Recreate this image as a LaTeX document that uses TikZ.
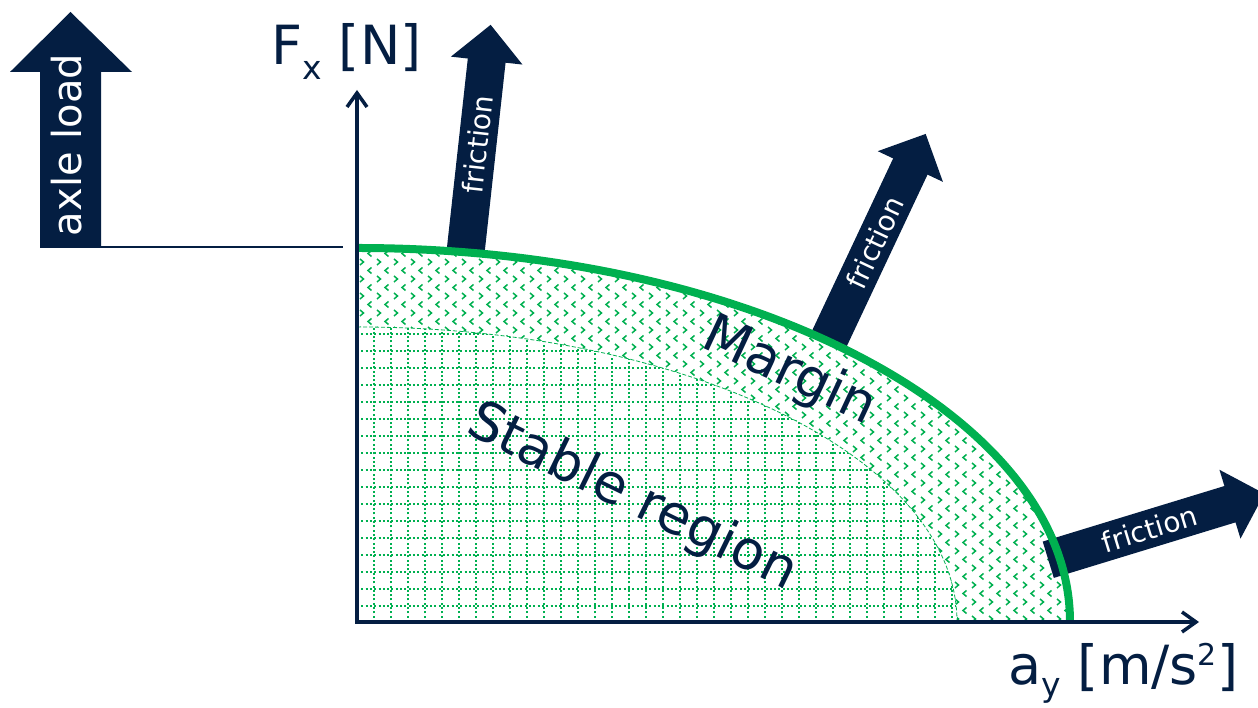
\documentclass[tikz,border=0pt]{standalone}
\usepackage{fontspec}
\setmainfont{DejaVu Sans}
\usepackage{tikz}
\usetikzlibrary{arrows.meta}

\definecolor{navy}{RGB}{4,30,66}
\definecolor{grn}{RGB}{0,176,80}

\begin{document}
\begin{tikzpicture}[x=1pt, y=1pt,
    axis/.style={line width=3.5pt, navy, {Straight Barb[length=14pt,width=20pt]}-{Straight Barb[length=14pt,width=20pt]}},
    chev/.style={grn, line width=1.5pt},
    stablegrid/.style={grn, line width=1.5pt, dash pattern=on 2pt off 2.3pt},
    fric/.style={text=white, font=\fontsize{28}{28}\selectfont, inner sep=0pt},
    lbl/.style={text=navy, font=\fontsize{54}{54}\selectfont, inner sep=0pt}]

    \useasboundingbox (0,0) rectangle (1258,708);

    % Margen entre las dos curvas
    \begin{scope}
        \clip (357,86) -- (357,460) arc[start angle=90, end angle=0, x radius=713, y radius=374] -- cycle;
        \foreach \i in {0,...,42}
            \foreach \j in {0,...,22} {
                \draw[chev] ({357+17*\i+3},{86+17*\j+6}) -- ++(3.5,-3) -- ++(-3.5,-3);
                \draw[chev] ({357+17*\i+14.5},{86+17*\j+14.5}) -- ++(-3.5,-3) -- ++(3.5,-3);
            }
    \end{scope}

    % Region estable con cuadricula
    \fill[white] (357,86) -- (357,381) arc[start angle=90, end angle=0, x radius=600, y radius=295] -- cycle;
    \begin{scope}
        \clip (357,86) -- (357,381) arc[start angle=90, end angle=0, x radius=600, y radius=295] -- cycle;
        \draw[stablegrid, step=17pt] (357,86) grid (957,381);
    \end{scope}
    \draw[grn, line width=0.8pt, dash pattern=on 4pt off 2pt] (357,381) arc[start angle=90, end angle=0, x radius=600, y radius=295];

    % Flechas de friccion
    \begin{scope}[shift={(466.5,464.5)}, rotate=83.7]
        \fill[navy] (-6,-19) -- (184,-19) -- (184,-36) -- (220,0) -- (184,36) -- (184,19) -- (-6,19) -- cycle;
        \node[fric, rotate=83.7] (fric1) at (100,0) {friction};
    \end{scope}
    \begin{scope}[shift={(832,375)}, rotate=64.8]
        \fill[navy] (-6,-19) -- (184,-19) -- (184,-36) -- (220,0) -- (184,36) -- (184,19) -- (-6,19) -- cycle;
        \node[fric, rotate=64.8] (fric2) at (100,0) {friction};
    \end{scope}
    \begin{scope}[shift={(1054,150)}, rotate=17]
        \fill[navy] (-6,-19) -- (184,-19) -- (184,-36) -- (220,0) -- (184,36) -- (184,19) -- (-6,19) -- cycle;
        \node[fric, rotate=17] (fric3) at (100,0) {friction};
    \end{scope}

    % Borde exterior
    \draw[grn, line width=8pt] (357,460) arc[start angle=90, end angle=0, x radius=713, y radius=374];

    % Ejes
    \coordinate (O) at (357,86);
    \coordinate (ytip) at (357,618);
    \coordinate (xtip) at (1199,86);
    \draw[axis] (ytip) -- (O) -- (xtip);
    \node[lbl, anchor=base west] (fx) at (271,643) {F\raisebox{-15pt}{\fontsize{33}{33}\selectfont x} [N]};
    \node[lbl, anchor=base west] (ay) at (1008,23) {a\raisebox{-12pt}{\fontsize{33}{33}\selectfont y} [m/s\raisebox{19pt}{\fontsize{30}{30}\selectfont 2}]};

    % Textos de las regiones
    \node[lbl, rotate=-25] (margin) at (789,336) {Margin};
    \node[lbl, rotate=-26] (stable) at (632,210) {Stable region};

    % Carga del eje
    \fill[navy] (40,461) -- (40,636) -- (10,636) -- (70.5,696) -- (132,636) -- (101,636) -- (101,461) -- cycle;
    \node[text=white, font=\fontsize{40}{40}\selectfont, inner sep=0pt, rotate=90] (axle) at (67,563) {axle load};
    \coordinate (axlefoot) at (40,461);
    \coordinate (loadend) at (343,461);
    \draw[navy, line width=1.2pt] (axlefoot) -- (loadend);
\end{tikzpicture}
\end{document}
